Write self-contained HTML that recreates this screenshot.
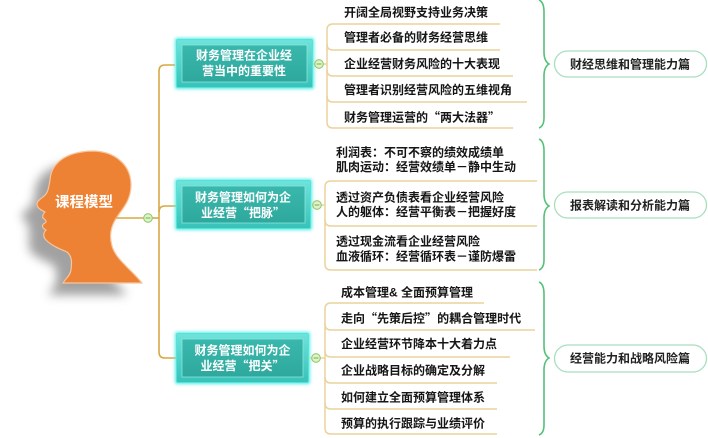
<!DOCTYPE html>
<html><head><meta charset="utf-8">
<style>
html,body{margin:0;padding:0;background:#fff;}
svg{display:block;}
text{font-family:"Liberation Sans","Noto Sans CJK SC",sans-serif;}
.q{font-family:"Noto Sans CJK SC",sans-serif;}
.leaf{font-size:12px;font-weight:bold;fill:#151515;}
.bt{font-size:12px;font-weight:bold;fill:#fff;text-anchor:middle;}
.pt{font-size:12px;font-weight:bold;fill:#222;text-anchor:middle;}
.main{fill:none;stroke:#d8a945;stroke-width:1.6;}
.sub{fill:none;stroke:#ead29c;stroke-width:1.5;}
.brace{fill:none;stroke:#55c078;stroke-width:1.6;}
.pill{fill:#fff;stroke:#a9dfbd;stroke-width:1.3;}
</style></head>
<body>
<svg width="708" height="438" viewBox="0 0 708 438" xmlns="http://www.w3.org/2000/svg">
<defs>
  <filter id="sh" x="-50%" y="-50%" width="200%" height="200%">
    <feGaussianBlur stdDeviation="5"/>
  </filter>
  <filter id="glow" x="-20%" y="-30%" width="140%" height="160%">
    <feGaussianBlur stdDeviation="1.5"/>
  </filter>
  <linearGradient id="frame" x1="0" y1="0" x2="0" y2="1">
    <stop offset="0" stop-color="#6fe3da"/>
    <stop offset="1" stop-color="#38c2b8"/>
  </linearGradient>
  <linearGradient id="panel" x1="0" y1="0" x2="0" y2="1">
    <stop offset="0" stop-color="#3ab8ad"/>
    <stop offset="1" stop-color="#2ea89d"/>
  </linearGradient>
  <g id="knob">
    <circle r="4.3" fill="#dff2c8" stroke="#8fca6e" stroke-width="1.1"/>
    <line x1="-2.4" y1="0" x2="2.4" y2="0" stroke="#7ab85a" stroke-width="1.1"/>
  </g>
</defs>

<!-- Head shadow -->
<path transform="translate(-15,12)" filter="url(#sh)" fill="#8a8a8a" opacity="0.8"
 d="M 63 283 C 66 278,70 276,71 270 C 72 262,72 256,67 252 C 60 249,52 246,46 240 C 43 237,43 233,46 230 C 42 228,41 225,45 223 C 47 222,46 220,43 218 C 42 215,44 213,45 212 C 41 210,37 208,37 204 C 37 200,43 198,46 194 C 49 190,49 185,50 180 C 51 165,63 152,92 151 C 115 151,131 165,131 185 C 131 198,125 206,119 214 C 113 222,108 232,112 246 C 116 260,132 270,142 283 Z"/>
<!-- Head -->
<path fill="#ee8234" stroke="#f8c49a" stroke-width="1.2"
 d="M 63 283 C 66 278,70 276,71 270 C 72 262,72 256,67 252 C 60 249,52 246,46 240 C 43 237,43 233,46 230 C 42 228,41 225,45 223 C 47 222,46 220,43 218 C 42 215,44 213,45 212 C 41 210,37 208,37 204 C 37 200,43 198,46 194 C 49 190,49 185,50 180 C 51 165,63 152,92 151 C 115 151,131 165,131 185 C 131 198,125 206,119 214 C 113 222,108 232,112 246 C 116 260,132 270,142 283 Z"/>
<text x="84" y="207" font-size="14.5" font-weight="bold" fill="#fff" text-anchor="middle" style="font-size:14.5px">课程模型</text>

<!-- main connectors -->
<path class="main" d="M 116 218 L 144 218"/>
<path class="main" d="M 152 218 L 159 218"/>
<path class="main" d="M 175 65 L 165 65 Q 159 65 159 71 L 159 352 Q 159 358 165 358 L 176 358"/>
<path class="main" d="M 159 212 Q 159 206 165 206 L 176 206"/>
<use href="#knob" x="148" y="218"/>

<!-- Boxes -->
<g>
  <rect x="175" y="38" width="139" height="51" rx="2" fill="#55ebe4" filter="url(#glow)"/>
  <rect x="176.5" y="39.5" width="136" height="48" rx="1.5" fill="url(#frame)" stroke="#4fe5de" stroke-width="1"/>
  <rect x="182" y="45" width="125" height="37" fill="url(#panel)" stroke="#86e6de" stroke-width="0.8"/>
  <text class="bt" x="244" y="59.5">财务管理在企业经</text>
  <text class="bt" x="244" y="75">营当中的重要性</text>
</g>
<g>
  <rect x="175" y="179" width="137" height="51" rx="2" fill="#55ebe4" filter="url(#glow)"/>
  <rect x="176.5" y="180.5" width="134" height="48" rx="1.5" fill="url(#frame)" stroke="#4fe5de" stroke-width="1"/>
  <rect x="182" y="186" width="123" height="37" fill="url(#panel)" stroke="#86e6de" stroke-width="0.8"/>
  <text class="bt" x="243" y="201.5">财务管理如何为企</text>
  <text class="bt" x="243" y="217">业经营<tspan class="q">“</tspan>把脉<tspan class="q">”</tspan></text>
</g>
<g>
  <rect x="175" y="332" width="135" height="52" rx="2" fill="#55ebe4" filter="url(#glow)"/>
  <rect x="176.5" y="333.5" width="132" height="49" rx="1.5" fill="url(#frame)" stroke="#4fe5de" stroke-width="1"/>
  <rect x="182" y="339" width="121" height="38" fill="url(#panel)" stroke="#86e6de" stroke-width="0.8"/>
  <text class="bt" x="242.5" y="354.5">财务管理如何为企</text>
  <text class="bt" x="242.5" y="370">业经营<tspan class="q">“</tspan>把关<tspan class="q">”</tspan></text>
</g>

<!-- Group 1 connectors -->
<path class="sub" d="M 313 64 L 315 64"/>
<path class="sub" d="M 323 64 L 327 64"/>
<path class="sub" d="M 500 24 L 333 24 Q 327 24 327 30 L 327 122 Q 327 128 333 128 L 513 128"/>
<path class="sub" d="M 327 44 Q 327 50 333 50 L 500 50"/>
<path class="sub" d="M 327 70 Q 327 76 333 76 L 513 76"/>
<path class="sub" d="M 327 96 Q 327 102 333 102 L 527 102"/>
<use href="#knob" x="319" y="64"/>
<text class="leaf" x="344" y="16.5">开阔全局视野支持业务决策</text>
<text class="leaf" x="344" y="41.5">管理者必备的财务经营思维</text>
<text class="leaf" x="344" y="68">企业经营财务风险的十大表现</text>
<text class="leaf" x="344" y="94">管理者识别经营风险的五维视角</text>
<text class="leaf" x="344" y="121.5">财务管理运营的<tspan class="q">“</tspan>两大法器<tspan class="q">”</tspan></text>

<!-- Group 2 connectors -->
<path class="sub" d="M 311 205 L 313 205"/>
<path class="sub" d="M 321 205 L 325 205"/>
<path class="sub" d="M 537 181 L 331 181 Q 325 181 325 187 L 325 264 Q 325 270 331 270 L 537 270"/>
<path class="sub" d="M 325 220 Q 325 226 331 226 L 537 226"/>
<use href="#knob" x="317" y="205"/>
<text class="leaf" x="336" y="156.5">利润表：不可不察的绩效成绩单</text>
<text class="leaf" x="336" y="171">肌肉运动：经营效绩单－静中生动</text>
<text class="leaf" x="336" y="201.5">透过资产负债表看企业经营风险</text>
<text class="leaf" x="336" y="216">人的躯体：经营平衡表－把握好度</text>
<text class="leaf" x="336" y="245.5">透过现金流看企业经营风险</text>
<text class="leaf" x="336" y="260.5">血液循环：经营循环表－谨防爆雷</text>

<!-- Group 3 connectors -->
<path class="sub" d="M 309 358 L 312 358"/>
<path class="sub" d="M 320 358 L 325 358"/>
<path class="sub" d="M 484 303 L 331 303 Q 325 303 325 309 L 325 428 Q 325 434 331 434 L 497 434"/>
<path class="sub" d="M 325 324 Q 325 330 331 330 L 535 330"/>
<path class="sub" d="M 325 351 Q 325 357 331 357 L 510 357"/>
<path class="sub" d="M 325 377 Q 325 383 331 383 L 497 383"/>
<path class="sub" d="M 325 403 Q 325 409 331 409 L 497 409"/>
<use href="#knob" x="316" y="358"/>
<text class="leaf" x="341" y="296.5">成本管理&amp; 全面预算管理</text>
<text class="leaf" x="341" y="322.5">走向<tspan class="q">“</tspan>先策后控<tspan class="q">”</tspan>的耦合管理时代</text>
<text class="leaf" x="341" y="348">企业经营环节降本十大着力点</text>
<text class="leaf" x="341" y="374.5">企业战略目标的确定及分解</text>
<text class="leaf" x="341" y="401.5">如何建立全面预算管理体系</text>
<text class="leaf" x="341" y="427.5">预算的执行跟踪与业绩评价</text>

<!-- Braces -->
<path class="brace" d="M 539 0 Q 544 2 544 12 L 544 52 Q 544 61 549 64 Q 544 67 544 76 L 544 118 Q 544 126 539 128"/>
<path class="brace" d="M 539 139 Q 544 141 544 151 L 544 194 Q 544 203 549 206 Q 544 209 544 218 L 544 260 Q 544 268 539 270"/>
<path class="brace" d="M 539 282 Q 544 284 544 294 L 544 346 Q 544 355 549 358 Q 544 361 544 370 L 544 425 Q 544 433 539 435"/>

<!-- Pills -->
<rect class="pill" x="554.5" y="51" width="152" height="26" rx="13"/>
<text class="pt" x="630" y="68.5">财经思维和管理能力篇</text>
<rect class="pill" x="554.5" y="192" width="152" height="26" rx="13"/>
<text class="pt" x="630" y="209.5">报表解读和分析能力篇</text>
<rect class="pill" x="554.5" y="345" width="152" height="27" rx="13.5"/>
<text class="pt" x="630" y="362.5">经营能力和战略风险篇</text>
</svg>
</body></html>
